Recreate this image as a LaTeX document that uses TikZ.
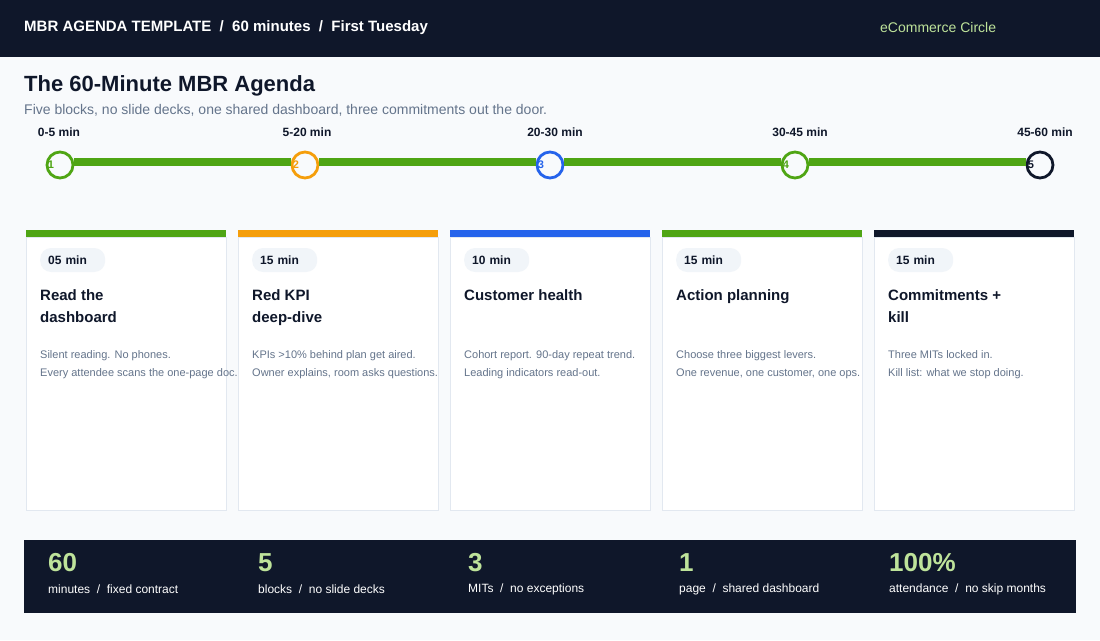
\documentclass[tikz,border=0pt]{standalone}
\usepackage{fontspec}
\setmainfont{Liberation Sans}
\usetikzlibrary{positioning}
\definecolor{navy}{HTML}{0F172A}
\definecolor{grn}{HTML}{4FA514}
\definecolor{org}{HTML}{F59E0B}
\definecolor{blu}{HTML}{2563EB}
\definecolor{muted}{HTML}{64748B}
\definecolor{pillbg}{HTML}{F1F5F9}
\definecolor{edge}{HTML}{E2E8F0}
\definecolor{pagebg}{HTML}{F8FAFC}
\definecolor{lime}{HTML}{BEE39A}
\begin{document}
\begin{tikzpicture}[
      x=1pt, y=-1pt,
      dot/.style   = {circle, draw, line width=2.8pt, fill=pagebg,
                      minimum size=26pt, inner sep=0pt},
      num/.style   = {font=\bfseries\fontsize{11}{12}\selectfont, anchor=west,
                      inner xsep=2pt},
      tick/.style  = {font=\bfseries\fontsize{12}{14}\selectfont, text=navy},
      card/.style  = {draw=edge, fill=white, anchor=north west,
                      minimum width=200pt, minimum height=273pt},
      pill/.style  = {fill=pillbg, rounded corners=11pt, anchor=west,
                      minimum width=65pt, minimum height=24pt, inner xsep=8pt,
                      text width=49pt, font=\bfseries\fontsize{12}{14}\selectfont,
                      text=navy},
      head/.style  = {anchor=north west, align=left, text=navy,
                      font=\bfseries\fontsize{15}{22}\selectfont, inner sep=0pt},
      note/.style  = {anchor=north west, align=left, text=muted,
                      font=\fontsize{11}{18}\selectfont, inner sep=0pt},
      big/.style   = {anchor=west, text=lime, inner sep=0pt,
                      font=\bfseries\fontsize{26}{28}\selectfont},
      statcap/.style = {anchor=west, text=white, inner sep=0pt,
                      font=\fontsize{12}{14}\selectfont},
    ]
    \fill[pagebg] (0,0) rectangle (1100,640);
    \useasboundingbox (0,0) rectangle (1100,640);

    % header bar
    \fill[navy] (0,0) rectangle (1100,57);
    \node[anchor=west, inner sep=0pt, text=white, font=\bfseries\fontsize{15}{16}\selectfont]
      (hdr) at (24,28) {MBR AGENDA TEMPLATE \ / \ 60 minutes \ / \ First Tuesday};
    \node[anchor=west, inner sep=0pt, text=lime, font=\fontsize{14}{16}\selectfont]
      (brand) at (880,27) {eCommerce Circle};

    \node[anchor=west, inner sep=0pt, text=navy, font=\bfseries\fontsize{22}{24}\selectfont]
      (title) at (24,86) {The 60-Minute MBR Agenda};
    \node[anchor=west, inner sep=0pt, text=muted, font=\fontsize{14}{16}\selectfont]
      (sub) at (24,110) {Five blocks, no slide decks, one shared dashboard, three commitments out the door.};

    % timeline
    \node[dot, draw=grn]  (t1) at (60,165)   {};
    \node[dot, draw=org]  (t2) at (305,165)  {};
    \node[dot, draw=blu]  (t3) at (550,165)  {};
    \node[dot, draw=grn]  (t4) at (795,165)  {};
    \node[dot, draw=navy] (t5) at (1040,165) {};
    \draw[grn, line width=8.5pt] ([yshift=3pt]t1.east) -- ([yshift=3pt]t2.west);
    \draw[grn, line width=8.5pt] ([yshift=3pt]t2.east) -- ([yshift=3pt]t3.west);
    \draw[grn, line width=8.5pt] ([yshift=3pt]t3.east) -- ([yshift=3pt]t4.west);
    \draw[grn, line width=8.5pt] ([yshift=3pt]t4.east) -- ([yshift=3pt]t5.west);
    \node[num, text=grn]  at (t1.west) {1};
    \node[num, text=org]  at (t2.west) {2};
    \node[num, text=blu]  at (t3.west) {3};
    \node[num, text=grn]  at (t4.west) {4};
    \node[num, text=navy] at (t5.west) {5};

    \node[tick] (l1) at (59,132)   {0-5 min};
    \node[tick] (l2) at (307,132)  {5-20 min};
    \node[tick] (l3) at (555,132)  {20-30 min};
    \node[tick] (l4) at (800,132)  {30-45 min};
    \node[tick] (l5) at (1045,132) {45-60 min};

    % cards
    \foreach \i/\x/\col/\mins/\ttl/\txt in {
        1/26/grn/05 min/{Read the\\dashboard}/{Silent reading. No phones.\\Every attendee scans the one-page doc.},
        2/238/org/15 min/{Red KPI\\deep-dive}/{KPIs >10\% behind plan get aired.\\Owner explains, room asks questions.},
        3/450/blu/10 min/{Customer health}/{Cohort report. 90-day repeat trend.\\Leading indicators read-out.},
        4/662/grn/15 min/{Action planning}/{Choose three biggest levers.\\One revenue, one customer, one ops.},
        5/874/navy/15 min/{Commitments +\\kill}/{Three MITs locked in.\\Kill list: what we stop doing.}} {
      \node[card] (c\i) at (\x,237) {};
      \fill[\col] (\x,230) rectangle ++(200,7);
      \node[pill] (p\i) at (\x+14,260) {\mins};
      \node[head] (h\i) at (\x+14,289) {\ttl};
      \node[note] (n\i) at (\x+14,350) {\txt};
    }

    % stats band
    \fill[navy] (24,540) rectangle (1076,613);
    \foreach \i/\x/\val/\lbl in {
        1/48/60/{minutes \ / \ fixed contract},
        2/258/5/{blocks \ / \ no slide decks},
        3/468/3/{MITs \ / \ no exceptions},
        4/679/1/{page \ / \ shared dashboard},
        5/889/100\%/{attendance \ / \ no skip months}} {
      \node[big] (s\i) at (\x,563) {\val};
      \node[statcap] (k\i) at (\x,589) {\lbl};
    }
\end{tikzpicture}
\end{document}
